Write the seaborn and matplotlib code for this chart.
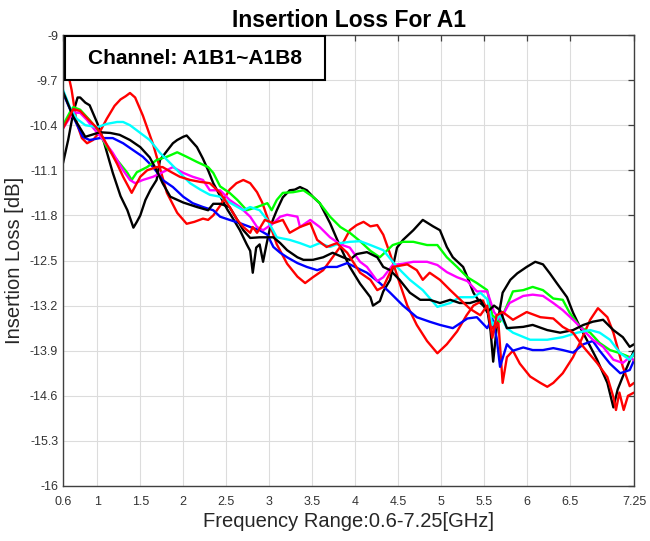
import matplotlib
matplotlib.use("Agg")
import matplotlib.pyplot as plt
import pandas as pd
import seaborn as sns
from matplotlib.patches import Rectangle

# ---------------- data (frequency GHz, insertion loss dB) ----------------
channels = ["A1B1", "A1B2", "A1B3", "A1B4", "A1B5", "A1B6", "A1B7", "A1B8"]
line_colors = ["#000000", "#ff0000", "#0000ff", "#00ff00", "#ff00ff", "#00ffff", "#000000", "#ff0000"]

a1b1 = [(0.60,-10.99),(0.66,-10.63),(0.72,-10.20),(0.77,-9.97),(0.80,-9.97),(0.86,-10.05),(0.91,-10.09),
        (1.00,-10.37),(1.07,-10.63),(1.18,-11.14),(1.27,-11.50),(1.35,-11.72),(1.42,-11.99),(1.46,-11.90),
        (1.50,-11.80),(1.56,-11.56),(1.62,-11.40),(1.69,-11.25),(1.73,-10.94),(1.81,-10.80),(1.88,-10.68),
        (1.93,-10.63),(2.00,-10.58),(2.04,-10.56),(2.10,-10.65),(2.16,-10.74),(2.23,-10.92),(2.29,-11.10),
        (2.35,-11.30),(2.43,-11.50),(2.51,-11.70),(2.58,-11.85),(2.66,-12.03),(2.74,-12.25),(2.78,-12.35),
        (2.81,-12.69),(2.85,-12.30),(2.89,-12.25),(2.93,-12.52),(2.97,-12.25),(3.01,-12.00),(3.05,-11.85),
        (3.09,-11.72),(3.16,-11.52),(3.24,-11.41),(3.30,-11.40),(3.36,-11.36),(3.44,-11.41),(3.51,-11.51),
        (3.59,-11.61),(3.71,-11.92),(3.83,-12.29),(3.94,-12.60),(4.06,-12.86),(4.18,-13.07),(4.21,-13.20),
        (4.29,-13.13),(4.33,-12.98),(4.41,-12.80),(4.49,-12.30),(4.56,-12.18),(4.68,-12.03),(4.79,-11.87),
        (4.91,-11.97),(4.99,-12.03),(5.07,-12.29),(5.14,-12.45),(5.26,-12.60),(5.31,-12.76),(5.38,-13.00),
        (5.46,-13.16),(5.54,-13.25),(5.58,-13.60),(5.61,-14.07),(5.65,-13.55),(5.72,-13.00),(5.81,-12.80),
        (5.89,-12.70),(6.00,-12.60),(6.10,-12.52),(6.19,-12.56),(6.27,-12.70),(6.35,-12.85),(6.47,-13.07),
        (6.54,-13.31),(6.62,-13.53),(6.70,-13.73),(6.82,-14.04),(6.94,-14.40),(7.01,-14.78),(7.06,-14.50),
        (7.12,-14.30),(7.17,-14.15),(7.25,-13.90)]

a1b2 = [(0.60,-9.17),(0.66,-9.60),(0.70,-9.85),(0.76,-10.37),(0.82,-10.60),(0.88,-10.68),(0.95,-10.63),
        (1.03,-10.50),(1.11,-10.30),(1.20,-10.10),(1.27,-10.00),(1.33,-9.95),(1.38,-9.90),(1.44,-9.97),
        (1.53,-10.25),(1.65,-10.70),(1.73,-11.07),(1.81,-11.45),(1.93,-11.76),(2.04,-11.93),(2.13,-11.90),
        (2.23,-11.85),(2.29,-11.87),(2.35,-11.80),(2.43,-11.65),(2.54,-11.40),(2.62,-11.30),(2.70,-11.25),
        (2.78,-11.30),(2.86,-11.44),(2.92,-11.60),(2.98,-11.83),(3.09,-12.25),(3.21,-12.55),(3.33,-12.75),
        (3.42,-12.85),(3.51,-12.76),(3.63,-12.65),(3.74,-12.45),(3.86,-12.23),(3.94,-12.03),(4.02,-11.95),
        (4.10,-11.90),(4.18,-11.97),(4.26,-11.95),(4.33,-12.10),(4.41,-12.40),(4.52,-12.85),(4.61,-13.20),
        (4.72,-13.50),(4.84,-13.75),(4.96,-13.94),(5.07,-13.80),(5.19,-13.60),(5.30,-13.35),(5.38,-13.20),
        (5.49,-13.12),(5.55,-13.30),(5.62,-13.60),(5.67,-13.45),(5.72,-14.40),(5.77,-14.00),(5.84,-13.90),
        (5.92,-14.10),(6.04,-14.30),(6.16,-14.40),(6.24,-14.46),(6.31,-14.40),(6.42,-14.25),(6.54,-14.00),
        (6.62,-13.78),(6.74,-13.42),(6.83,-13.24),(6.94,-13.38),(7.01,-13.62),(7.12,-14.15),(7.20,-14.45),
        (7.25,-14.40)]

a1b3 = [(0.60,-9.90),(0.72,-10.27),(0.83,-10.58),(0.91,-10.63),(1.03,-10.60),(1.18,-10.60),(1.30,-10.68),
        (1.42,-10.79),(1.53,-10.89),(1.65,-11.05),(1.76,-11.25),(1.88,-11.36),(2.00,-11.51),(2.11,-11.61),
        (2.23,-11.67),(2.35,-11.72),(2.43,-11.82),(2.54,-11.87),(2.66,-11.92),(2.78,-11.98),(2.89,-12.03),
        (2.98,-12.10),(3.05,-12.29),(3.13,-12.38),(3.21,-12.45),(3.33,-12.54),(3.44,-12.60),(3.56,-12.65),
        (3.67,-12.60),(3.79,-12.60),(3.91,-12.54),(4.00,-12.60),(4.14,-12.69),(4.29,-12.85),(4.41,-13.00),
        (4.56,-13.20),(4.72,-13.38),(4.87,-13.45),(4.99,-13.50),(5.14,-13.55),(5.31,-13.40),(5.42,-13.38),
        (5.54,-13.55),(5.60,-13.40),(5.65,-13.70),(5.69,-14.15),(5.77,-13.80),(5.84,-13.90),(5.96,-13.85),
        (6.07,-13.89),(6.19,-13.89),(6.31,-13.86),(6.42,-13.89),(6.54,-13.93),(6.66,-13.80),(6.77,-13.75),
        (6.85,-13.90),(6.97,-14.10),(7.09,-14.25),(7.20,-14.20),(7.25,-14.05)]

a1b4 = [(0.60,-10.40),(0.68,-10.20),(0.72,-10.12),(0.80,-10.16),(0.91,-10.32),(1.00,-10.47),(1.11,-10.74),
        (1.23,-10.94),(1.35,-11.14),(1.40,-11.25),(1.46,-11.13),(1.58,-11.05),(1.69,-10.94),(1.81,-10.89),
        (1.93,-10.82),(2.04,-10.89),(2.16,-10.97),(2.29,-11.05),(2.35,-11.14),(2.43,-11.35),(2.54,-11.45),
        (2.63,-11.56),(2.74,-11.72),(2.86,-11.67),(2.98,-11.61),(3.03,-11.72),(3.09,-11.56),(3.16,-11.45),
        (3.28,-11.44),(3.40,-11.41),(3.51,-11.51),(3.59,-11.61),(3.71,-11.82),(3.83,-11.98),(3.94,-12.07),
        (4.06,-12.20),(4.18,-12.35),(4.29,-12.45),(4.37,-12.35),(4.44,-12.26),(4.56,-12.21),(4.68,-12.21),
        (4.84,-12.26),(4.96,-12.26),(5.07,-12.45),(5.19,-12.60),(5.31,-12.76),(5.42,-12.85),(5.54,-12.96),
        (5.60,-13.35),(5.69,-13.45),(5.77,-13.20),(5.84,-12.98),(5.96,-12.96),(6.07,-12.91),(6.19,-12.96),
        (6.31,-13.09),(6.42,-13.11),(6.50,-13.31),(6.62,-13.53),(6.74,-13.62),(6.85,-13.78),(6.97,-13.89),
        (7.09,-13.94),(7.20,-14.00),(7.25,-13.97)]

a1b5 = [(0.60,-10.45),(0.72,-10.20),(0.80,-10.21),(0.88,-10.32),(0.95,-10.44),(1.07,-10.63),(1.18,-10.83),
        (1.30,-11.10),(1.38,-11.25),(1.44,-11.30),(1.53,-11.25),(1.65,-11.20),(1.76,-11.13),(1.88,-11.05),
        (2.00,-11.14),(2.11,-11.20),(2.23,-11.25),(2.31,-11.41),(2.43,-11.41),(2.54,-11.56),(2.66,-11.67),
        (2.78,-11.82),(2.86,-11.98),(2.93,-12.03),(3.05,-11.92),(3.13,-11.82),(3.21,-11.79),(3.33,-11.82),
        (3.36,-11.98),(3.48,-11.87),(3.59,-11.98),(3.71,-12.14),(3.83,-12.25),(3.94,-12.30),(4.06,-12.52),
        (4.14,-12.60),(4.26,-12.82),(4.33,-12.76),(4.44,-12.57),(4.56,-12.55),(4.68,-12.52),(4.84,-12.52),
        (4.96,-12.57),(5.07,-12.68),(5.19,-12.76),(5.31,-12.82),(5.42,-12.98),(5.54,-12.98),(5.62,-13.30),
        (5.69,-13.42),(5.80,-13.16),(5.96,-13.05),(6.07,-13.03),(6.19,-13.05),(6.31,-13.16),(6.42,-13.27),
        (6.54,-13.42),(6.66,-13.58),(6.77,-13.73),(6.89,-13.84),(7.01,-14.04),(7.12,-14.09),(7.20,-14.00),
        (7.25,-14.05)]

a1b6 = [(0.60,-9.85),(0.68,-10.12),(0.76,-10.30),(0.86,-10.40),(1.00,-10.43),(1.11,-10.38),(1.23,-10.35),
        (1.30,-10.35),(1.38,-10.40),(1.50,-10.52),(1.61,-10.63),(1.73,-10.83),(1.85,-10.99),(1.96,-11.14),
        (2.08,-11.30),(2.20,-11.40),(2.31,-11.48),(2.43,-11.51),(2.54,-11.60),(2.70,-11.72),(2.78,-11.67),
        (2.89,-11.72),(2.98,-11.87),(3.09,-12.14),(3.24,-12.18),(3.36,-12.23),(3.48,-12.29),(3.59,-12.23),
        (3.71,-12.29),(3.83,-12.23),(3.94,-12.21),(4.06,-12.20),(4.18,-12.26),(4.33,-12.34),(4.49,-12.60),
        (4.64,-12.80),(4.79,-12.96),(4.96,-13.22),(5.11,-13.16),(5.22,-13.07),(5.38,-13.07),(5.46,-13.00),
        (5.54,-13.10),(5.60,-13.50),(5.69,-13.35),(5.77,-13.55),(5.84,-13.62),(6.04,-13.73),(6.24,-13.73),
        (6.42,-13.69),(6.59,-13.62),(6.74,-13.58),(6.85,-13.62),(6.97,-13.73),(7.09,-13.94),(7.20,-14.04),
        (7.25,-13.94)]

a1b7 = [(0.60,-9.88),(0.72,-10.27),(0.86,-10.58),(1.03,-10.51),(1.15,-10.52),(1.26,-10.55),(1.38,-10.63),
        (1.50,-10.74),(1.61,-10.90),(1.69,-11.10),(1.76,-11.30),(1.85,-11.51),(2.00,-11.60),(2.16,-11.67),
        (2.29,-11.72),(2.35,-11.62),(2.43,-11.62),(2.54,-11.67),(2.63,-11.87),(2.70,-12.03),(2.78,-12.15),
        (2.89,-12.14),(2.98,-12.14),(3.05,-12.14),(3.13,-12.23),(3.21,-12.34),(3.33,-12.45),(3.40,-12.49),
        (3.51,-12.49),(3.63,-12.45),(3.74,-12.38),(3.86,-12.45),(3.94,-12.49),(4.02,-12.40),(4.14,-12.37),
        (4.26,-12.45),(4.33,-12.60),(4.41,-12.65),(4.52,-12.80),(4.64,-13.00),(4.76,-13.11),(4.87,-13.11),
        (4.99,-13.16),(5.11,-13.11),(5.22,-13.16),(5.34,-13.16),(5.46,-13.11),(5.54,-13.30),(5.62,-13.20),
        (5.69,-13.27),(5.77,-13.55),(5.96,-13.53),(6.07,-13.50),(6.24,-13.58),(6.39,-13.62),(6.54,-13.58),
        (6.66,-13.50),(6.77,-13.45),(6.89,-13.42),(7.01,-13.58),(7.12,-13.69),(7.20,-13.84),(7.25,-13.80)]

a1b8 = [(0.60,-10.45),(0.72,-10.15),(0.80,-10.18),(0.91,-10.33),(1.00,-10.45),(1.07,-10.60),(1.15,-10.80),
        (1.23,-11.00),(1.30,-11.20),(1.36,-11.35),(1.40,-11.45),(1.44,-11.35),(1.50,-11.20),(1.58,-11.10),
        (1.69,-11.05),(1.76,-11.05),(1.85,-11.12),(1.96,-11.20),(2.08,-11.25),(2.20,-11.28),(2.31,-11.30),
        (2.43,-11.45),(2.54,-11.67),(2.63,-11.87),(2.70,-11.98),(2.78,-12.07),(2.81,-11.98),(2.86,-12.07),
        (2.95,-11.87),(3.05,-11.92),(3.16,-11.87),(3.24,-12.07),(3.36,-11.98),(3.48,-11.92),(3.56,-12.18),
        (3.67,-12.29),(3.79,-12.23),(3.91,-12.38),(4.06,-12.69),(4.18,-12.80),(4.26,-12.96),(4.33,-12.91),
        (4.44,-12.60),(4.61,-12.56),(4.72,-12.65),(4.79,-12.80),(4.87,-12.69),(4.99,-12.80),(5.11,-12.96),
        (5.22,-13.10),(5.34,-13.25),(5.46,-13.35),(5.54,-13.20),(5.60,-13.70),(5.65,-13.35),(5.72,-13.30),
        (5.84,-13.42),(6.00,-13.30),(6.16,-13.38),(6.31,-13.40),(6.42,-13.53),(6.54,-13.62),(6.66,-13.84),
        (6.82,-14.09),(6.94,-14.31),(7.01,-14.62),(7.04,-14.82),(7.08,-14.55),(7.13,-14.82),(7.18,-14.60),
        (7.25,-14.55)]

series = [a1b1, a1b2, a1b3, a1b4, a1b5, a1b6, a1b7, a1b8]

x_ticks = [0.6, 1, 1.5, 2, 2.5, 3, 3.5, 4, 4.5, 5, 5.5, 6, 6.5, 7.25]
x_tick_labels = ["0.6", "1", "1.5", "2", "2.5", "3", "3.5", "4", "4.5", "5", "5.5", "6", "6.5", "7.25"]
y_ticks = [-9, -9.7, -10.4, -11.1, -11.8, -12.5, -13.2, -13.9, -14.6, -15.3, -16]
y_tick_labels = ["-9", "-9.7", "-10.4", "-11.1", "-11.8", "-12.5", "-13.2", "-13.9", "-14.6", "-15.3", "-16"]

title = "Insertion Loss For A1"
x_label = "Frequency Range:0.6-7.25[GHz]"
y_label = "Insertion Loss [dB]"
box_text = "Channel: A1B1~A1B8"

# ---------------- build table ----------------
rows = []
for ch, pts in zip(channels, series):
    for f, l in pts:
        rows.append((ch, f, l))
df = pd.DataFrame(rows, columns=["channel", "freq", "loss"])

# ---------------- style ----------------
sns.set_style("white")
plt.rcParams['font.family'] = ['Liberation Sans', 'DejaVu Sans']

W, H = 650, 541
fig = plt.figure(figsize=(W / 100, H / 100), dpi=100)
ax = fig.add_axes([63 / W, 1 - 486 / H, 571 / W, 451 / H])

sns.lineplot(data=df, x="freq", y="loss", hue="channel", hue_order=channels,
             palette=line_colors, estimator=None, sort=False, legend=False,
             linewidth=1.7, ax=ax)

ax.set_xlim(0.6, 7.25)
ax.set_ylim(-16, -9)
ax.set_xticks(x_ticks)
ax.set_xticklabels(x_tick_labels)
ax.set_yticks(y_ticks)
ax.set_yticklabels(y_tick_labels)

ax.grid(True, color="#dcdcdc", linewidth=0.8)
ax.set_axisbelow(True)
ax.tick_params(axis="both", direction="in", top=True, right=True, length=4,
               width=0.9, color="#404040", labelsize=9, labelcolor="#333333")
ax.tick_params(axis="x", pad=7)
ax.tick_params(axis="y", pad=3.5)
for s in ax.spines.values():
    s.set_color("#404040")
    s.set_linewidth(1.0)

ax.set_title(title, fontsize=16.5, fontweight="bold", pad=6, color="black")
ax.set_xlabel(x_label, fontsize=14.5, color="#262626", labelpad=3)
ax.set_ylabel(y_label, fontsize=14.5, color="#262626", labelpad=4)

box = Rectangle((0.003, 0.900), 0.455, 0.098, transform=ax.transAxes,
                facecolor="white", edgecolor="black", linewidth=1.5, zorder=5)
ax.add_patch(box)
ax.text(0.231, 0.949, box_text, transform=ax.transAxes, ha="center", va="center",
        fontsize=15, fontweight="bold", color="black", zorder=6)

fig.savefig("out.png", dpi=100)
